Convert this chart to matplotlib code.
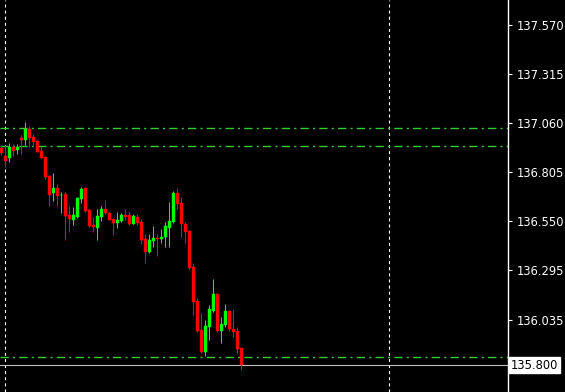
import matplotlib
matplotlib.use("Agg")
import matplotlib.pyplot as plt
import numpy as np

# OHLC (oldest -> newest)
opens = [136.932, 136.888, 136.876, 136.937, 136.921, 136.982, 136.973, 137.029, 136.987, 136.966,
         136.916, 136.885, 136.784, 136.697, 136.722, 136.683, 136.691, 136.583, 136.557, 136.573,
         136.665, 136.720, 136.609, 136.531, 136.514, 136.573, 136.614, 136.593, 136.562, 136.541,
         136.552, 136.583, 136.583, 136.536, 136.573, 136.547, 136.457, 136.391, 136.448, 136.463,
         136.455, 136.469, 136.515, 136.547, 136.696, 136.644, 136.533, 136.498, 136.312, 136.136,
         135.983, 135.870, 136.000, 136.082, 136.170, 135.978, 136.009, 136.082, 135.988, 135.978,
         135.891]
highs = [136.946, 136.946, 136.954, 136.949, 136.949, 136.998, 137.064, 137.045, 137.004, 136.973,
         136.942, 136.890, 136.790, 136.798, 136.743, 136.700, 136.700, 136.627, 136.623, 136.677,
         136.727, 136.727, 136.614, 136.573, 136.613, 136.628, 136.661, 136.599, 136.567, 136.599,
         136.593, 136.614, 136.599, 136.588, 136.585, 136.562, 136.481, 136.483, 136.524, 136.483,
         136.509, 136.547, 136.651, 136.708, 136.723, 136.675, 136.547, 136.503, 136.330, 136.148,
         136.070, 136.035, 136.113, 136.248, 136.177, 136.049, 136.118, 136.087, 136.092, 136.000,
         135.896]
lows = [136.894, 136.831, 136.856, 136.890, 136.897, 136.900, 136.946, 136.937, 136.942, 136.908,
        136.876, 136.769, 136.630, 136.654, 136.630, 136.592, 136.451, 136.495, 136.529, 136.567,
        136.642, 136.599, 136.521, 136.491, 136.451, 136.550, 136.585, 136.554, 136.477, 136.515,
        136.547, 136.555, 136.529, 136.533, 136.529, 136.431, 136.333, 136.385, 136.417, 136.370,
        136.437, 136.417, 136.417, 136.541, 136.611, 136.469, 136.434, 136.303, 136.061, 135.974,
        135.865, 135.848, 135.931, 136.078, 135.974, 135.917, 136.000, 135.978, 135.948, 135.865,
        135.775]
closes = [136.906, 136.864, 136.937, 136.916, 136.937, 136.973, 137.029, 136.984, 136.963, 136.911,
          136.880, 136.779, 136.686, 136.722, 136.680, 136.686, 136.578, 136.562, 136.583, 136.670,
          136.717, 136.604, 136.524, 136.519, 136.578, 136.614, 136.593, 136.557, 136.541, 136.555,
          136.583, 136.573, 136.535, 136.578, 136.541, 136.451, 136.391, 136.451, 136.462, 136.455,
          136.469, 136.524, 136.550, 136.696, 136.639, 136.533, 136.495, 136.307, 136.130, 135.978,
          135.870, 136.004, 136.092, 136.170, 135.978, 136.014, 136.082, 135.988, 135.974, 135.884,
          135.800]

level_lines = [137.034, 136.940, 135.843]
period_seps = [1, 97]
price_ticks = [137.570, 137.315, 137.060, 136.805, 136.550, 136.295, 136.035]
last_price = 135.800

o = np.array(opens)
h = np.array(highs)
l = np.array(lows)
c = np.array(closes)
x = np.arange(len(o))
up = c >= o
colors = np.where(up, "#00ff00", "#ff0000")

plt.rcParams["lines.scale_dashes"] = False
fig = plt.figure(figsize=(5.65, 3.92), dpi=100, facecolor="black")
ax = fig.add_axes([0, 0, 508 / 565, 1])
ax.set_facecolor("black")

# separators and levels
for xs in period_seps:
    ax.axvline(xs, color="white", lw=0.8, dashes=(2.2, 2.2), zorder=1)
for lv in level_lines:
    ax.axhline(lv, color="#32cd32", lw=1.0, dashes=(6, 3, 1.5, 3), zorder=1)
ax.axhline(last_price, color="#c0c0c0", lw=0.8, zorder=1)

# candles
ax.vlines(x, l, h, colors=colors, lw=0.75, zorder=2)
bottoms = np.minimum(o, c)
heights = np.maximum(np.abs(c - o), 0.002)
ax.bar(x, heights, bottom=bottoms, width=0.75, color=colors, edgecolor=colors, lw=0.3, zorder=3)

ax.set_xlim(-0.25, 126.75)
ax.set_ylim(135.6605, 137.700)

for s in ["top", "bottom", "left"]:
    ax.spines[s].set_visible(False)
ax.spines["right"].set_color("white")
ax.spines["right"].set_linewidth(1.0)
ax.set_xticks([])
ax.yaxis.tick_right()
ax.set_yticks(price_ticks)
ax.set_yticklabels([f"{p:.3f}" for p in price_ticks])
ax.tick_params(axis="y", colors="white", length=3, width=0.8, pad=3, labelsize=8.3)

ax.text(1.006, last_price, f"{last_price:.3f}", transform=ax.get_yaxis_transform(),
        ha="left", va="center", fontsize=8.3, color="black",
        bbox=dict(boxstyle="square,pad=0.15", fc="white", ec="white"))

fig.savefig("out.png", dpi=100, facecolor="black")
